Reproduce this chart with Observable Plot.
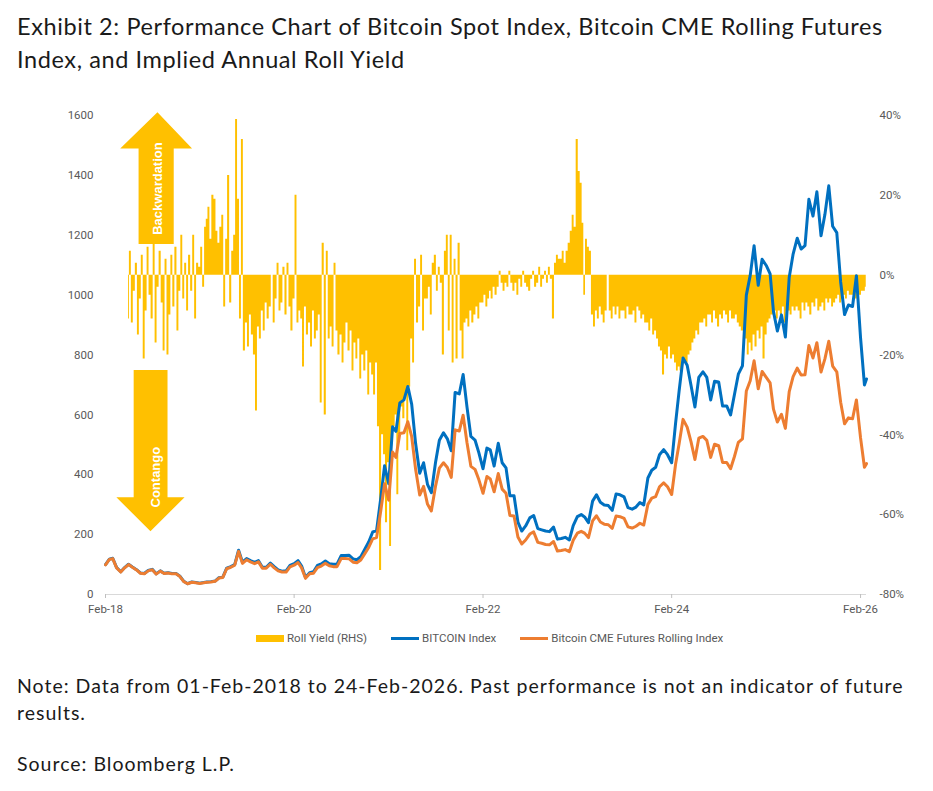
<!DOCTYPE html>
<html>
<head>
<meta charset="utf-8">
<script src="https://cdn.jsdelivr.net/npm/d3@7"></script>
<script src="https://cdn.jsdelivr.net/npm/@observablehq/plot@0.6"></script>
<style>
  html, body { margin: 0; padding: 0; background: #fff; }
  body { width: 933px; }
  #title { font-family: Lato, "Open Sans", sans-serif; font-size: 23.5px; letter-spacing: 0.6px; line-height: 33px; color: #1a1a1a;
           padding: 10px 0 0 17px; height: 90px; box-sizing: border-box; white-space: nowrap; }
  #chart { height: 528px; }
  #legend { height: 40px; display: flex; align-items: center; padding-left: 256px; box-sizing: border-box;
            font-family: Roboto, "Liberation Sans", sans-serif; font-size: 11.5px; color: #595959; }
  #legend .item { display: flex; align-items: center; margin-right: 24px; }
  #legend .sw { display: inline-block; width: 28px; margin-right: 3px; }
  #notes { font-family: Lato, "Open Sans", sans-serif; font-size: 19.5px; letter-spacing: 1px; line-height: 27px; color: #1a1a1a;
           padding-left: 17px; margin-top: 14px; white-space: nowrap; }
  #notes p { margin: 0; }
</style>
</head>
<body>
<div id="title">Exhibit 2: Performance Chart of Bitcoin Spot Index, Bitcoin CME Rolling Futures<br>Index, and Implied Annual Roll Yield</div>
<div id="chart"></div>
<div id="legend">
  <span class="item"><span class="sw" style="height:7px;background:#FFC000"></span>Roll Yield (RHS)</span>
  <span class="item"><span class="sw" style="height:3px;background:#0070C0"></span>BITCOIN Index</span>
  <span class="item"><span class="sw" style="height:3px;background:#ED7D31"></span>Bitcoin CME Futures Rolling Index</span>
</div>
<div id="notes">
  <p>Note: Data from 01-Feb-2018 to 24-Feb-2026. Past performance is not an indicator of future<br>results.</p>
  <p style="margin-top:24px">Source: Bloomberg L.P.</p>
</div>
<script>
// ---------- Series: BITCOIN Index (semi-monthly, 1st & 16th, from Feb-2018) ----------
const btc2018 = [100, 118, 121, 90, 76, 90, 101, 92, 83, 72, 70, 80, 84, 69, 79, 71, 73, 70, 70, 61, 44, 36];
const btc2019 = [42, 40, 38, 40, 42, 43, 45, 56, 58, 88, 93, 100, 148, 108, 120, 113, 107, 113, 91, 91, 105, 93, 82, 78];
const btc2020 = [79, 97, 103, 113, 95, 57, 73, 76, 97, 102, 112, 103, 101, 101, 130, 130, 131, 119, 116, 126, 152, 176, 209, 213];
const btc2021 = [320, 430, 370, 560, 545, 640, 650, 695, 635, 505, 405, 440, 368, 340, 440, 515, 540, 520, 480, 675, 670, 735, 626, 528];
const btc2022 = [516, 473, 420, 489, 483, 429, 505, 440, 423, 330, 330, 242, 212, 229, 256, 264, 220, 216, 212, 210, 225, 185, 187, 191];
const btc2023 = [182, 230, 260, 267, 259, 240, 312, 333, 308, 299, 297, 281, 336, 333, 326, 290, 285, 292, 307, 299, 389, 415, 425, 467];
const btc2024 = [484, 467, 440, 571, 681, 790, 766, 698, 626, 725, 744, 725, 650, 712, 710, 630, 630, 600, 668, 736, 764, 1000, 1066, 1165];
const btc2025 = [1033, 1120, 1099, 1071, 945, 880, 934, 860, 1060, 1137, 1190, 1154, 1165, 1320, 1264, 1345, 1198, 1269, 1365, 1230, 1209, 1044, 935, 967];
const btc2026 = [962, 1065, 857, 700, 720];

// ---------- Series: Bitcoin CME Futures Rolling Index ----------
const cme2018 = [99, 117, 120, 89, 75, 89, 100, 91, 82, 71, 69, 79, 83, 68, 78, 70, 72, 69, 69, 60, 43, 36];
const cme2019 = [41, 39, 37, 39, 41, 42, 44, 55, 57, 86, 91, 98, 144, 104, 116, 109, 103, 109, 88, 88, 101, 89, 79, 75];
const cme2020 = [75, 92, 98, 107, 89, 54, 69, 71, 90, 95, 104, 96, 93, 93, 120, 120, 119, 108, 106, 115, 137, 158, 186, 190];
const cme2021 = [278, 370, 315, 476, 458, 538, 540, 577, 527, 419, 332, 361, 302, 279, 361, 422, 440, 424, 391, 550, 546, 599, 507, 428];
const cme2022 = [418, 383, 338, 394, 386, 343, 404, 352, 338, 264, 262, 192, 169, 182, 202, 209, 174, 171, 167, 166, 177, 145, 147, 150];
const cme2023 = [143, 181, 205, 211, 205, 190, 246, 263, 242, 235, 233, 221, 262, 260, 254, 226, 222, 228, 238, 232, 301, 322, 327, 360];
const cme2024 = [373, 360, 334, 434, 504, 585, 559, 510, 451, 522, 528, 515, 458, 502, 497, 441, 441, 420, 461, 508, 520, 680, 714, 781];
const cme2025 = [687, 745, 725, 707, 619, 576, 602, 555, 678, 728, 756, 733, 734, 832, 790, 841, 743, 787, 846, 763, 744, 642, 570, 590];
const cme2026 = [587, 650, 523, 425, 437];

// ---------- Series: implied annual roll yield, % (4 readings per month, from May-2018) ----------
const roll2018 = [-11, 6, -12, -4,  3, -15, -6, 5,  -21, -9, 7, -5,  -11, 8, -17, -3,
                  6, -7, -19, 4,  -20, -10, 5, -8,  7, -14, -4, 10,  -6, 3, -9, 5];
const roll2019 = [-4, 10, -11, 3,  2, 7, -3, 12,  14, 17, 9, 20,  19, 11, 8, 12,
                  15, -8, 9, 25,  -7, 6, 10, 39,  19, -11, 34, -19,  -12, -18, -10, -15,
                  -20, -34, -13, -16,  -9, -14, -7, -11,  -8, 0, -12, -6,  3, -9, -7, 2];
const roll2020 = [-10, 3, -8, -14,  -6, 20, -12, -9,  -11, -23, -8, -15,  -12, -18, -9, -16,
                  -14, -10, -32, 8,  -35, 6, -16, -13,  -18, 3, -14, -20,  -15, -22, -17, -12,
                  -19, -14, -24, -17,  -21, -16, -26, -20,  -24, -19, -30, -22,  -25, -30, -22, -38];
const roll2021 = [-74, -40, -45, -62,  -47, -68, -42, -38,  -35, -55, -40, -33,  -36, -30, -44, -28,
                  -16, -22, 4, -12,  -8, 5, -14, -6,  -6, -3, -10, 3,  5, -4, 2, -2,
                  -20, 6, 10, -14,  10, -22, 4, -21,  8, -14, -21, -12,  -11, -13, -9, -12];
const roll2022 = [-10, -8, -11, -7,  -7, -5, -8, -6,  -4, -6, -3, -5,  -3, 1, -2, -4,
                  -2, -3, 1, -2,  -4, -2, -5, -1,  -3, 1, -2, -3,  -4, -1, 1, -3,
                  -2, 2, -3, -1,  1, -2, 2, -1,  -11, 3, 5, 4,  4, 6, 3, 6];
const roll2023 = [8, 11, 15, 12,  34, 26, 23, 13,  -5, 9, 7, 6,  -10, -13, -9, -11,
                  -8, -10, -12, -9,  0, -9, -11, -8,  -10, -8, -11, -9,  -9, -11, -8, -10,
                  -10, -9, -12, -8,  -9, -11, -10, -12,  -12, -14, -11, -15,  -14, -16, -18, -19];
const roll2024 = [-25, -20, -21, -18,  -21, -20, -22, -24,  -23, -24, -21, -22,  -22, -20, -19, -17,
                  -16, -14, -15, -12,  -12, -11, -13, -10,  -10, -12, -9, -11,  -13, -10, -11, -9,
                  -10, -12, -9, -11,  -11, -10, -12, -13,  -14, -18, -16, -20,  -17, -19, -15, -18];
const roll2025 = [-14, -16, -13, -21,  -15, -12, -11, -10,  -10, -9, -11, -9,  -10, -8, -12, -9,
                  -9, -10, -8, -9,  -8, -9, -11, -7,  -9, -7, -8, -10,  -7, -8, -6, -9,
                  -8, -7, -9, -6,  -7, -6, -8, -7,  -6, -5, -7, -6,  -5, -6, -4, -5];
const roll2026 = [-5, -4, -6, -4,  -5, -4, -4, -3];

// ---------- Axes ----------
const leftTicks = [0, 200, 400, 600, 800, 1000, 1200, 1400, 1600];
const rollTicks = [-80, -60, -40, -20, 0, 20, 40];
const xTickDates = ["2018-02-01", "2020-02-01", "2022-02-01", "2024-02-01", "2026-02-01"];
const xStart = "2018-02-01", xEnd = "2026-02-24";
const ROLL_MIN = -80, ROLL_MAX = 40, LEFT_MAX = 1600;

// ---------- Annotation arrows (data coordinates) ----------
const backwardationArrow = [
  ["2018-06-09", 1171], ["2018-06-09", 1490], ["2018-03-30", 1490], ["2018-08-21", 1611],
  ["2019-01-02", 1490], ["2018-10-23", 1490], ["2018-10-23", 1171], ["2018-06-09", 1171]];
const contangoArrow = [
  ["2018-05-21", 750], ["2018-09-29", 750], ["2018-09-29", 325], ["2018-12-04", 325],
  ["2018-07-25", 211], ["2018-03-15", 325], ["2018-05-21", 325], ["2018-05-21", 750]];
const arrowLabels = [
  {date: "2018-08-21", y: 1356, text: "Backwardation"},
  {date: "2018-08-13", y: 392, text: "Contango"}];

// ---------- Build tables ----------
const toLeft = v => (v - ROLL_MIN) / (ROLL_MAX - ROLL_MIN) * LEFT_MAX;
const fromLeft = y => y / LEFT_MAX * (ROLL_MAX - ROLL_MIN) + ROLL_MIN;
const semiDate = i => i === 194 ? new Date(Date.UTC(2026, 1, 24))
                                : new Date(Date.UTC(2018, 1 + Math.floor(i / 2), i % 2 ? 16 : 1));
const rollDate = j => new Date(Date.UTC(2018, 4 + Math.floor(j / 4), [1, 8, 16, 23][j % 4]));

const btc = [...btc2018, ...btc2019, ...btc2020, ...btc2021, ...btc2022, ...btc2023, ...btc2024, ...btc2025, ...btc2026]
  .map((v, i) => ({date: semiDate(i), v}));
const cme = [...cme2018, ...cme2019, ...cme2020, ...cme2021, ...cme2022, ...cme2023, ...cme2024, ...cme2025, ...cme2026]
  .map((v, i) => ({date: semiDate(i), v}));
const roll = [...roll2018, ...roll2019, ...roll2020, ...roll2021, ...roll2022, ...roll2023, ...roll2024, ...roll2025, ...roll2026]
  .map((v, j) => ({date: rollDate(j), v}));
const toPts = a => a.map(([d, y]) => ({date: new Date(d), y}));
const fmt = d3.utcFormat("%b-%y");

const chart = Plot.plot({
  width: 933, height: 528,
  marginTop: 25, marginBottom: 24, marginLeft: 105, marginRight: 67,
  x: {type: "utc", domain: [new Date(xStart), new Date(xEnd)]},
  y: {domain: [0, LEFT_MAX]},
  style: {fontFamily: "Roboto, 'Liberation Sans', sans-serif", fontSize: "11.5px", color: "#595959", background: "white", overflow: "visible"},
  marks: [
    Plot.area(roll, {x1: "date", y1: () => toLeft(0), y2: d => toLeft(d.v), fill: "#FFC000", curve: "step"}),
    Plot.ruleY([0], {stroke: "#D9D9D9", strokeWidth: 1}),
    Plot.line(toPts(backwardationArrow), {x: "date", y: "y", fill: "#FFC000", stroke: "none"}),
    Plot.line(toPts(contangoArrow), {x: "date", y: "y", fill: "#FFC000", stroke: "none"}),
    Plot.text(arrowLabels, {x: d => new Date(d.date), y: "y", text: "text", rotate: -90, fill: "white",
      fontWeight: "bold", fontSize: 13, fontFamily: "'Liberation Sans', Arial, sans-serif"}),
    Plot.line(btc, {x: "date", y: "v", stroke: "#0070C0", strokeWidth: 3, strokeLinejoin: "round"}),
    Plot.line(cme, {x: "date", y: "v", stroke: "#ED7D31", strokeWidth: 3, strokeLinejoin: "round"}),
    Plot.axisY(leftTicks, {anchor: "left", tickSize: 0, tickPadding: 12, label: null, tickFormat: d => String(d)}),
    Plot.axisY(rollTicks.map(toLeft), {anchor: "right", tickSize: 0, tickPadding: 13, label: null,
      tickFormat: d => Math.round(fromLeft(d)) + "%"}),
    Plot.axisX(xTickDates.map(d => new Date(d)), {anchor: "bottom", tickSize: 4, tickPadding: 6, label: null,
      stroke: "#BFBFBF", tickFormat: fmt})
  ]
});
document.getElementById("chart").appendChild(chart);
</script>
</body>
</html>
